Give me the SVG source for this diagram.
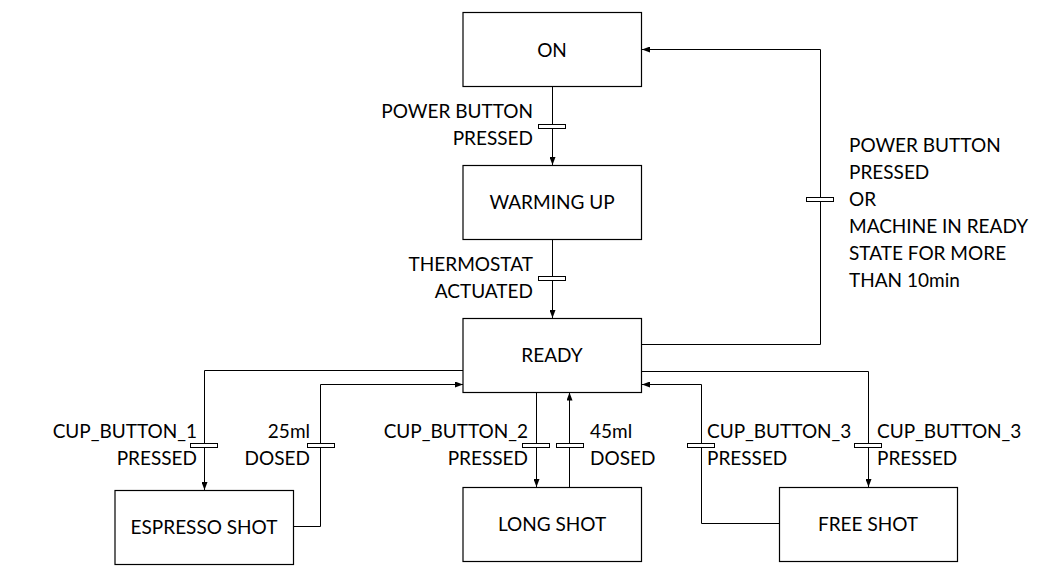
<svg xmlns="http://www.w3.org/2000/svg" width="1054" height="578" viewBox="0 0 1054 578">
<style>
  .box { fill: #ffffff; stroke: #000000; stroke-width: 1.2; }
  .lbl { font-family: Lato, "Liberation Sans", sans-serif; font-size: 19px; fill: #000000; }
  .mid { text-anchor: middle; }
  .end { text-anchor: end; }
  .wire { fill: none; stroke: #000000; stroke-width: 1; }
  .bar { fill: #ffffff; stroke: #000000; stroke-width: 1; }
</style>
<defs>
  <marker id="arr" markerWidth="8" markerHeight="6" refX="8" refY="3" orient="auto" markerUnits="userSpaceOnUse">
    <path d="M0,0 L8,3 L0,6 z" fill="#000000"/>
  </marker>
</defs>
<rect width="1054" height="578" fill="#ffffff"/>

<g id="connectors">
  <path class="wire" d="M552.5,86.5 V165" marker-end="url(#arr)"/>
  <rect class="bar" x="538.5" y="124.5" width="27" height="4"/>
  <path class="wire" d="M552.5,239.5 V318" marker-end="url(#arr)"/>
  <rect class="bar" x="538.5" y="276.5" width="27" height="4"/>
  <path class="wire" d="M641.5,344.5 H820.5 V49.5 H642" marker-end="url(#arr)"/>
  <rect class="bar" x="806.5" y="197.5" width="27" height="4"/>
  <path class="wire" d="M463,370.5 H204.5 V490" marker-end="url(#arr)"/>
  <rect class="bar" x="190.5" y="443.5" width="27" height="4"/>
  <path class="wire" d="M293.5,526.5 H320.5 V384.5 H463" marker-end="url(#arr)"/>
  <rect class="bar" x="307.5" y="443.5" width="27" height="4"/>
  <path class="wire" d="M536.5,392.5 V487" marker-end="url(#arr)"/>
  <rect class="bar" x="522.5" y="443.5" width="27" height="4"/>
  <path class="wire" d="M569.5,487 V392.5" marker-end="url(#arr)"/>
  <rect class="bar" x="556.5" y="443.5" width="27" height="4"/>
  <path class="wire" d="M641.5,371.5 H868.5 V487" marker-end="url(#arr)"/>
  <rect class="bar" x="854.5" y="443.5" width="27" height="4"/>
  <path class="wire" d="M779.5,523.5 H701.5 V384.5 H642" marker-end="url(#arr)"/>
  <rect class="bar" x="687.5" y="443.5" width="27" height="4"/>

  <text class="lbl end" x="533" y="118">POWER BUTTON</text>
  <text class="lbl end" x="533" y="145">PRESSED</text>
  <text class="lbl end" x="533" y="271">THERMOSTAT</text>
  <text class="lbl end" x="533" y="298">ACTUATED</text>
  <text class="lbl" x="849" y="152">POWER BUTTON</text>
  <text class="lbl" x="849" y="179">PRESSED</text>
  <text class="lbl" x="849" y="206">OR</text>
  <text class="lbl" x="849" y="233">MACHINE IN READY</text>
  <text class="lbl" x="849" y="260">STATE FOR MORE</text>
  <text class="lbl" x="849" y="287">THAN 10min</text>
  <text class="lbl end" x="197" y="438">CUP_BUTTON_1</text>
  <text class="lbl end" x="197" y="465">PRESSED</text>
  <text class="lbl end" x="310" y="438">25ml</text>
  <text class="lbl end" x="310" y="465">DOSED</text>
  <text class="lbl end" x="528" y="438">CUP_BUTTON_2</text>
  <text class="lbl end" x="528" y="465">PRESSED</text>
  <text class="lbl" x="590" y="438">45ml</text>
  <text class="lbl" x="590" y="465">DOSED</text>
  <text class="lbl" x="707" y="438">CUP_BUTTON_3</text>
  <text class="lbl" x="707" y="465">PRESSED</text>
  <text class="lbl" x="877" y="438">CUP_BUTTON_3</text>
  <text class="lbl" x="877" y="465">PRESSED</text>
</g>

<g id="node-on">
  <rect class="box" x="463" y="12.5" width="178.5" height="74"/>
  <text class="lbl mid" x="552" y="57">ON</text>
</g>
<g id="node-warming-up">
  <rect class="box" x="463" y="165.5" width="178.5" height="74"/>
  <text class="lbl mid" x="552" y="209">WARMING UP</text>
</g>
<g id="node-ready">
  <rect class="box" x="463" y="318.5" width="178.5" height="74"/>
  <text class="lbl mid" x="552" y="362">READY</text>
</g>
<g id="node-espresso-shot">
  <rect class="box" x="115" y="490.5" width="178.5" height="74"/>
  <text class="lbl mid" x="204" y="534">ESPRESSO SHOT</text>
</g>
<g id="node-long-shot">
  <rect class="box" x="463" y="487.5" width="178.5" height="74"/>
  <text class="lbl mid" x="552" y="531">LONG SHOT</text>
</g>
<g id="node-free-shot">
  <rect class="box" x="779.5" y="487.5" width="178" height="74"/>
  <text class="lbl mid" x="868" y="531">FREE SHOT</text>
</g>
</svg>
